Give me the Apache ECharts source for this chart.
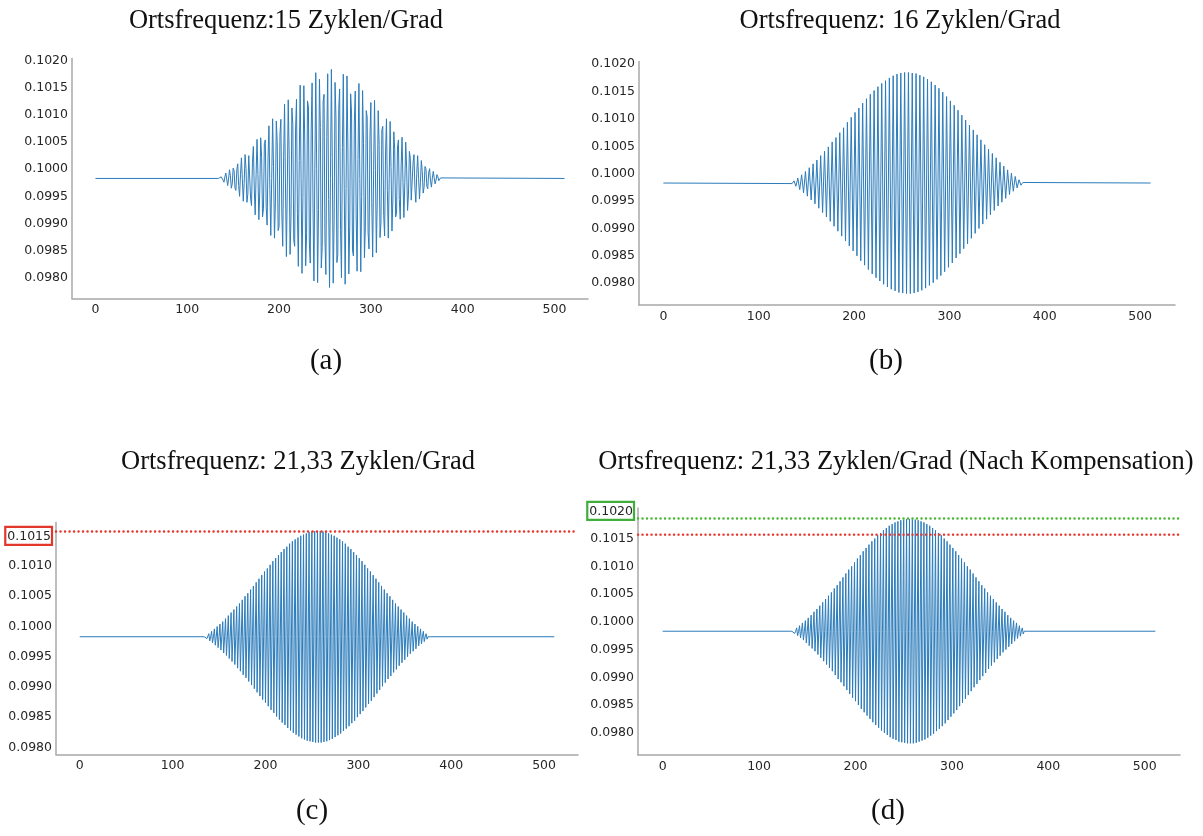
<!DOCTYPE html>
<html>
<head>
<meta charset="utf-8">
<script src="https://cdn.jsdelivr.net/npm/echarts@6/dist/echarts.min.js"></script>
<style>
html,body{margin:0;padding:0;background:#fff;}
#chart{width:1203px;height:836px;}
</style>
</head>
<body>
<div id="chart"></div>
<script>
// ---------- data ----------
const panelTitles = [
  'Ortsfrequenz:15 Zyklen/Grad',
  'Ortsfrequenz: 16 Zyklen/Grad',
  'Ortsfrequenz: 21,33 Zyklen/Grad',
  'Ortsfrequenz: 21,33 Zyklen/Grad (Nach Kompensation)'
];
const panelLabels = ['(a)', '(b)', '(c)', '(d)'];

const xTicks = [0, 100, 200, 300, 400, 500];
const yTicksFull = [0.0980, 0.0985, 0.0990, 0.0995, 0.1000, 0.1005, 0.1010, 0.1015, 0.1020];
const yTicksC = [0.0980, 0.0985, 0.0990, 0.0995, 0.1000, 0.1005, 0.1010, 0.1015];

const firstSample = 0;
const lastSample = 511;
const flatLevel = 0.09983;

// (a) 15 cycles/degree, samples 134..378
const aStart = 134;
const aSignal = [
0.09983,0.09982,0.09982,0.09986,0.09987,0.09980,0.09976,0.09986,0.09993,0.09982,
0.09970,0.09982,0.09999,0.09988,0.09965,0.09973,0.10002,0.09998,0.09965,0.09961,
0.09999,0.10010,0.09970,0.09950,0.09990,0.10021,0.09983,0.09941,0.09974,0.10027,
0.10001,0.09939,0.09954,0.10025,0.10023,0.09946,0.09933,0.10012,0.10042,0.09964,
0.09916,0.09990,0.10055,0.09990,0.09907,0.09960,0.10058,0.10022,0.09912,0.09927,
0.10047,0.10054,0.09930,0.09897,0.10021,0.10080,0.09963,0.09878,0.09983,0.10093,
0.10005,0.09873,0.09938,0.10089,0.10051,0.09887,0.09894,0.10065,0.10092,0.09920,
0.09858,0.10023,0.10120,0.09969,0.09839,0.09969,0.10128,0.10027,0.09843,0.09910,
0.10113,0.10083,0.09870,0.09858,0.10074,0.10129,0.09919,0.09821,0.10016,0.10155,
0.09983,0.09808,0.09948,0.10154,0.10052,0.09822,0.09881,0.10126,0.10115,0.09864,
0.09827,0.10072,0.10159,0.09927,0.09794,0.10002,0.10178,0.10002,0.09791,0.09926,
0.10166,0.10077,0.09818,0.09856,0.10124,0.10138,0.09871,0.09806,0.10060,0.10176,
0.09944,0.09782,0.09983,0.10184,0.10022,0.09790,0.09906,0.10160,0.10095,0.09828,
0.09842,0.10110,0.10148,0.09889,0.09800,0.10040,0.10175,0.09964,0.09788,0.09964,
0.10172,0.10039,0.09807,0.09894,0.10139,0.10102,0.09851,0.09840,0.10085,0.10144,
0.09914,0.09812,0.10018,0.10158,0.09983,0.09811,0.09950,0.10145,0.10047,0.09837,
0.09892,0.10108,0.10096,0.09883,0.09853,0.10056,0.10123,0.09939,0.09838,0.09997,
0.10127,0.09997,0.09846,0.09943,0.10108,0.10046,0.09874,0.09901,0.10072,0.10079,
0.09915,0.09877,0.10028,0.10093,0.09961,0.09873,0.09983,0.10088,0.10003,0.09886,
0.09945,0.10069,0.10036,0.09912,0.09919,0.10039,0.10054,0.09944,0.09908,0.10006,
0.10059,0.09976,0.09911,0.09976,0.10050,0.10002,0.09924,0.09954,0.10033,0.10020,
0.09943,0.09941,0.10012,0.10027,0.09965,0.09939,0.09992,0.10025,0.09983,0.09945,
0.09976,0.10016,0.09996,0.09956,0.09967,0.10005,0.10001,0.09968,0.09964,0.09993,
0.10001,0.09978,0.09967,0.09984,0.09996,0.09984,0.09973,0.09980,0.09990,0.09986,
0.09979,0.09980,0.09984,0.09984,0.09983
];

// (b) 16 cycles/degree, turning points at samples 135,137,...,377
const bStart = 135;
const bStep = 2;
const bSignal = [
0.09982,0.09987,0.09977,0.09992,0.09971,0.09998,0.09965,0.10004,0.09959,0.10011,
0.09952,0.10018,0.09945,0.10025,0.09937,0.10033,0.09929,0.10041,0.09921,0.10049,
0.09913,0.10058,0.09904,0.10066,0.09895,0.10075,0.09886,0.10084,0.09877,0.10094,
0.09868,0.10103,0.09859,0.10112,0.09850,0.10120,0.09841,0.10129,0.09833,0.10137,
0.09825,0.10145,0.09817,0.10152,0.09810,0.10159,0.09804,0.10165,0.09798,0.10170,
0.09793,0.10175,0.09789,0.10179,0.09786,0.10182,0.09783,0.10184,0.09782,0.10185,
0.09781,0.10185,0.09781,0.10184,0.09782,0.10183,0.09784,0.10180,0.09787,0.10177,
0.09791,0.10173,0.09796,0.10168,0.09801,0.10162,0.09807,0.10156,0.09814,0.10149,
0.09821,0.10141,0.09829,0.10133,0.09837,0.10125,0.09846,0.10116,0.09854,0.10107,
0.09863,0.10098,0.09872,0.10089,0.09882,0.10080,0.09891,0.10071,0.09900,0.10062,
0.09908,0.10053,0.09917,0.10045,0.09925,0.10037,0.09933,0.10029,0.09941,0.10021,
0.09948,0.10014,0.09955,0.10007,0.09962,0.10001,0.09968,0.09995,0.09974,0.09989,
0.09979,0.09984
];

// (c) 21,33 cycles/degree, samples 134..378
const cStart = 134;
const cSignal = [
0.09983,0.09983,0.09985,0.09980,0.09983,0.09988,0.09976,0.09983,0.09992,0.09973,
0.09983,0.09996,0.09969,0.09983,0.10000,0.09965,0.09983,0.10004,0.09961,0.09983,
0.10008,0.09956,0.09983,0.10013,0.09952,0.09983,0.10018,0.09947,0.09983,0.10023,
0.09942,0.09983,0.10028,0.09937,0.09983,0.10033,0.09931,0.09983,0.10038,0.09926,
0.09983,0.10044,0.09920,0.09983,0.10050,0.09915,0.09983,0.10055,0.09909,0.09983,
0.10061,0.09903,0.09983,0.10067,0.09897,0.09983,0.10073,0.09891,0.09983,0.10079,
0.09885,0.09983,0.10085,0.09879,0.09983,0.10091,0.09874,0.09983,0.10096,0.09868,
0.09983,0.10102,0.09862,0.09983,0.10108,0.09857,0.09983,0.10113,0.09851,0.09983,
0.10118,0.09846,0.09983,0.10123,0.09841,0.09983,0.10128,0.09837,0.09983,0.10132,
0.09832,0.09983,0.10137,0.09828,0.09983,0.10141,0.09824,0.09983,0.10144,0.09821,
0.09983,0.10147,0.09818,0.09983,0.10150,0.09815,0.09983,0.10152,0.09813,0.09983,
0.10154,0.09811,0.09983,0.10156,0.09810,0.09983,0.10157,0.09809,0.09983,0.10158,
0.09808,0.09983,0.10158,0.09808,0.09983,0.10158,0.09808,0.09983,0.10157,0.09809,
0.09983,0.10156,0.09810,0.09983,0.10154,0.09812,0.09983,0.10152,0.09814,0.09983,
0.10150,0.09817,0.09983,0.10147,0.09820,0.09983,0.10144,0.09823,0.09983,0.10141,
0.09827,0.09983,0.10137,0.09831,0.09983,0.10132,0.09835,0.09983,0.10128,0.09840,
0.09983,0.10123,0.09844,0.09983,0.10118,0.09850,0.09983,0.10113,0.09855,0.09983,
0.10108,0.09860,0.09983,0.10102,0.09866,0.09983,0.10096,0.09872,0.09983,0.10091,
0.09877,0.09983,0.10085,0.09883,0.09983,0.10079,0.09889,0.09983,0.10073,0.09895,
0.09983,0.10067,0.09901,0.09983,0.10061,0.09907,0.09983,0.10055,0.09913,0.09983,
0.10050,0.09918,0.09983,0.10044,0.09924,0.09983,0.10038,0.09929,0.09983,0.10033,
0.09935,0.09983,0.10028,0.09940,0.09983,0.10023,0.09945,0.09983,0.10018,0.09950,
0.09983,0.10013,0.09955,0.09983,0.10008,0.09959,0.09983,0.10004,0.09963,0.09983,
0.10000,0.09968,0.09983,0.09996,0.09971,0.09983,0.09992,0.09975,0.09983,0.09988,
0.09979,0.09983,0.09985,0.09982,0.09983
];

// (d) 21,33 cycles/degree after compensation, samples 134..378
const dStart = 134;
const dSignal = [
0.09983,0.09983,0.09985,0.09979,0.09983,0.09989,0.09975,0.09983,0.09993,0.09971,
0.09983,0.09998,0.09967,0.09983,0.10002,0.09962,0.09983,0.10007,0.09957,0.09983,
0.10012,0.09952,0.09983,0.10018,0.09947,0.09983,0.10023,0.09941,0.09983,0.10029,
0.09935,0.09983,0.10035,0.09929,0.09983,0.10041,0.09923,0.09983,0.10047,0.09917,
0.09983,0.10053,0.09911,0.09983,0.10060,0.09904,0.09983,0.10066,0.09897,0.09983,
0.10073,0.09891,0.09983,0.10080,0.09884,0.09983,0.10087,0.09877,0.09983,0.10094,
0.09870,0.09983,0.10100,0.09863,0.09983,0.10107,0.09857,0.09983,0.10114,0.09850,
0.09983,0.10120,0.09843,0.09983,0.10127,0.09837,0.09983,0.10133,0.09831,0.09983,
0.10139,0.09825,0.09983,0.10145,0.09819,0.09983,0.10150,0.09814,0.09983,0.10156,
0.09809,0.09983,0.10160,0.09804,0.09983,0.10165,0.09800,0.09983,0.10169,0.09796,
0.09983,0.10173,0.09792,0.09983,0.10176,0.09789,0.09983,0.10179,0.09787,0.09983,
0.10181,0.09784,0.09983,0.10183,0.09783,0.09983,0.10184,0.09782,0.09983,0.10185,
0.09781,0.09983,0.10185,0.09781,0.09983,0.10185,0.09781,0.09983,0.10184,0.09782,
0.09983,0.10183,0.09784,0.09983,0.10181,0.09786,0.09983,0.10179,0.09788,0.09983,
0.10176,0.09791,0.09983,0.10173,0.09795,0.09983,0.10169,0.09798,0.09983,0.10165,
0.09803,0.09983,0.10160,0.09807,0.09983,0.10156,0.09812,0.09983,0.10150,0.09817,
0.09983,0.10145,0.09823,0.09983,0.10139,0.09829,0.09983,0.10133,0.09835,0.09983,
0.10127,0.09841,0.09983,0.10120,0.09848,0.09983,0.10114,0.09854,0.09983,0.10107,
0.09861,0.09983,0.10100,0.09868,0.09983,0.10094,0.09875,0.09983,0.10087,0.09882,
0.09983,0.10080,0.09888,0.09983,0.10073,0.09895,0.09983,0.10066,0.09902,0.09983,
0.10060,0.09908,0.09983,0.10053,0.09915,0.09983,0.10047,0.09921,0.09983,0.10041,
0.09927,0.09983,0.10035,0.09933,0.09983,0.10029,0.09939,0.09983,0.10023,0.09945,
0.09983,0.10018,0.09950,0.09983,0.10012,0.09955,0.09983,0.10007,0.09960,0.09983,
0.10002,0.09965,0.09983,0.09998,0.09970,0.09983,0.09993,0.09974,0.09983,0.09989,
0.09978,0.09983,0.09985,0.09982,0.09983
];

// reference levels (dotted lines)
const peakLevelC = 0.10157;   // red dotted: max of (c)
const peakLevelD = 0.10186;   // green dotted: max of (d)
const boxedTickC = 0.1015;
const boxedTickD = 0.1020;

// x axis range (sample index with margins)
const xRange = [-25.55, 536.55];

// ---------- build ----------
function toSeriesData(values, start, step) {
  const out = [[firstSample, flatLevel]];
  values.forEach((v, i) => out.push([start + i * step, v]));
  out.push([lastSample, flatLevel]);
  return out;
}

const panels = [
  {data: toSeriesData(aSignal, aStart, 1), yMin: 0.097619, yMax: 0.102041, yTicks: yTicksFull,
   grid: {left: 72, top: 58.5, width: 516, height: 239.9}, title: [286, 21], label: [326, 361]},
  {data: toSeriesData(bSignal, bStart, bStep), yMin: 0.0976, yMax: 0.10205, yTicks: yTicksFull,
   grid: {left: 639, top: 61.5, width: 536, height: 243.6}, title: [900, 21], label: [886, 361]},
  {data: toSeriesData(cSignal, cStart, 1), yMin: 0.09788, yMax: 0.10172, yTicks: yTicksC,
   grid: {left: 56, top: 522.5, width: 522, height: 232.1}, title: [298, 462], label: [312, 811],
   boxTick: boxedTickC, boxColor: '#e2372b',
   marks: [{v: peakLevelC, c: '#e8352b'}]},
  {data: toSeriesData(dSignal, dStart, 1), yMin: 0.0976, yMax: 0.10205, yTicks: yTicksFull,
   grid: {left: 638, top: 508, width: 542, height: 247}, title: [896, 462], label: [888, 811],
   boxTick: boxedTickD, boxColor: '#3fae3a',
   marks: [{v: peakLevelD, c: '#4cb535'}, {v: peakLevelC, c: '#e8352b'}]}
];

const axisColor = '#a8a8a8';
const labelFont = {fontSize: 12.5, fontFamily: 'DejaVu Sans', color: '#262626'};

const series = [];
panels.forEach((p, i) => {
  series.push({
    type: 'line', xAxisIndex: i, yAxisIndex: i,
    data: p.data, showSymbol: false, symbol: 'none', silent: true,
    lineStyle: {color: '#2c7cbb', width: 1.0}, z: 2
  });
  (p.marks || []).forEach(m => {
    series.push({
      type: 'line', xAxisIndex: i, yAxisIndex: i,
      data: [[xRange[0], m.v], [xRange[1], m.v]],
      showSymbol: false, symbol: 'none', silent: true,
      lineStyle: {color: m.c, type: [0.1, 4.4], width: 2.4, cap: 'round'}, z: 3
    });
  });
});

const option = {
  animation: false,
  backgroundColor: '#ffffff',
  grid: panels.map(p => Object.assign({containLabel: false}, p.grid)),
  xAxis: panels.map((p, i) => ({
    type: 'value', gridIndex: i, min: xRange[0], max: xRange[1],
    axisLine: {show: true, onZero: false, lineStyle: {color: axisColor, width: 1.5}},
    axisTick: {show: false},
    splitLine: {show: false},
    axisLabel: Object.assign({customValues: xTicks, margin: 5, formatter: v => String(v)}, labelFont)
  })),
  yAxis: panels.map((p, i) => ({
    type: 'value', gridIndex: i, min: p.yMin, max: p.yMax,
    axisLine: {show: true, onZero: false, lineStyle: {color: axisColor, width: 1.5}},
    axisTick: {show: false},
    splitLine: {show: false},
    axisLabel: Object.assign({
      customValues: p.yTicks, margin: 4,
      formatter: v => {
        const t = v.toFixed(4);
        if (p.boxTick !== undefined && t === p.boxTick.toFixed(4)) return '{box|' + t + '}';
        return t;
      },
      rich: {
        box: {
          fontSize: 12.5, fontFamily: 'DejaVu Sans', color: '#262626',
          borderColor: p.boxColor || '#000', borderWidth: 2.2, padding: [3, 1, 2, 2]
        }
      }
    }, labelFont)
  })),
  series: series,
  graphic: [].concat(
    panels.map((p, i) => ({
      type: 'text', x: p.title[0], y: p.title[1], silent: true,
      style: {text: panelTitles[i], fontSize: 26.5, fontFamily: 'Liberation Serif', fill: '#111',
              align: 'center', verticalAlign: 'middle', textAlign: 'center', textVerticalAlign: 'middle'}
    })),
    panels.map((p, i) => ({
      type: 'text', x: p.label[0], y: p.label[1], silent: true,
      style: {text: panelLabels[i], fontSize: 29, fontFamily: 'Liberation Serif', fill: '#111',
              align: 'center', verticalAlign: 'middle', textAlign: 'center', textVerticalAlign: 'middle'}
    }))
  )
};

const chart = echarts.init(document.getElementById('chart'), null, {renderer: 'canvas'});
chart.setOption(option);
</script>
</body>
</html>
